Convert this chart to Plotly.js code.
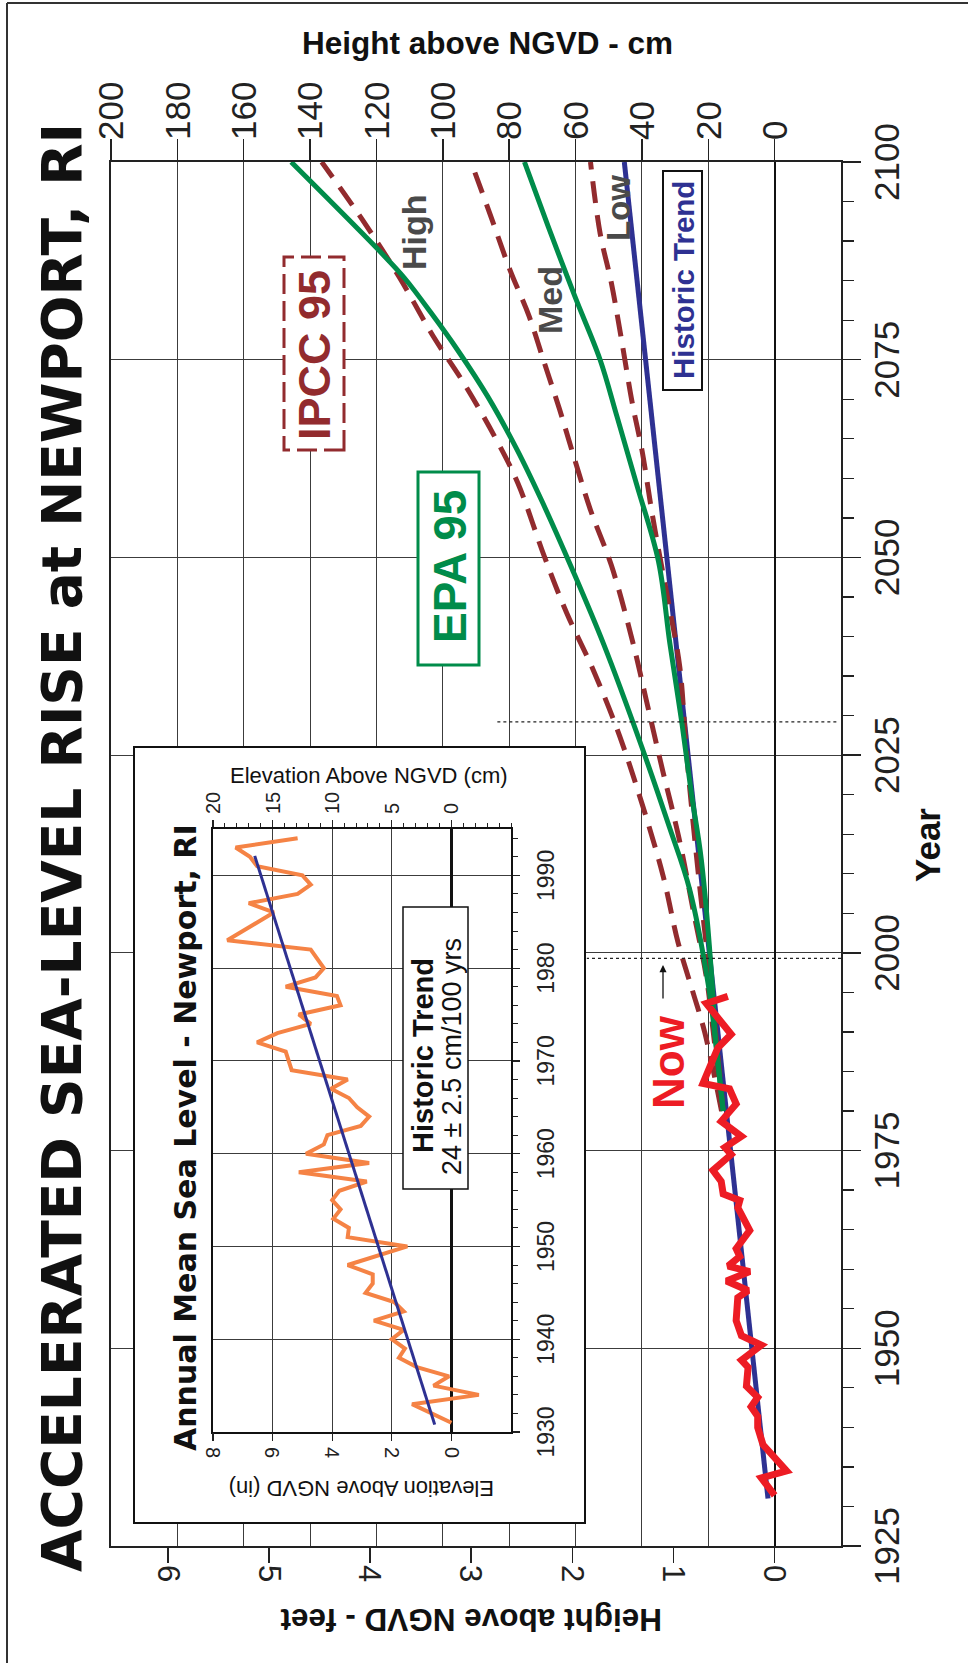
<!DOCTYPE html>
<html>
<head>
<meta charset="utf-8">
<script src="https://cdn.plot.ly/plotly-3.0.1.min.js"></script>
<style>
html,body{margin:0;padding:0;background:#fff;width:968px;height:1663px;overflow:hidden;}
#wrap{position:absolute;left:0;top:0;width:1663px;height:968px;transform-origin:0 0;transform:translate(0px,1663px) rotate(-90deg);}
#chart{width:1663px;height:968px;}
</style>
</head>
<body>
<div id="wrap"><div id="chart"></div></div>
<script>
// ---------------- DATA ----------------
// Main chart: height above NGVD in cm vs year
const trendYear = [1931, 2100];
const trendCm   = [2.0, 45.3];

const ipccHighYear = [1980, 1990, 1995, 2001.3, 2009.7, 2018.5, 2027.4, 2035.8, 2043, 2050, 2059.4, 2065.3, 2072, 2077.9, 2085.5, 2092.3, 2100];
const ipccHighCm   = [16.0, 21.1, 24.6, 29.1, 33.6, 39.7, 46.7, 54.7, 62.7, 69.3, 77.4, 84.4, 93.6, 102.8, 113.2, 123.6, 136.5];

const ipccMedYear = [1980, 1990, 1997, 2005.5, 2013.1, 2017.7, 2022.8, 2032, 2039.2, 2049, 2056, 2062.3, 2068.7, 2074.6, 2080.5, 2086.4, 2093.1, 2100];
const ipccMedCm   = [15.8, 18.5, 20.6, 24.6, 28.1, 30.6, 33.6, 38.7, 42.7, 49.2, 55.5, 60.2, 64.8, 69.4, 74.0, 79.8, 85.5, 91.5];

const ipccLowYear = [1980, 1995, 2010, 2025, 2036.2, 2043.4, 2051, 2056, 2063.6, 2069.5, 2077.9, 2084.7, 2091, 2100];
const ipccLowCm   = [15.5, 19.0, 23.0, 26.5, 28.6, 31.6, 35.0, 37.1, 40.0, 42.9, 46.3, 49.2, 52.6, 55.5];

const epaHighYear = [1980, 1990, 1996, 2008, 2016, 2026, 2039, 2048.5, 2057, 2063.6, 2070.3, 2076.2, 2080.9, 2085.3, 2088.5, 2100];
const epaHighCm   = [15.5, 18.1, 20.0, 25.6, 31.8, 40.0, 51.5, 61.0, 70.0, 77.6, 86.4, 95.5, 103.5, 111.5, 118.5, 145.7];

const epaLowYear = [1980, 1990, 1996, 2011.8, 2020.2, 2029.5, 2039.2, 2049.5, 2059.4, 2067.8, 2075, 2083, 2091.8, 2100];
const epaLowCm   = [15.5, 18.0, 18.8, 22.1, 25.1, 28.1, 31.6, 35.0, 41.7, 47.5, 52.6, 60.2, 68.2, 75.4];

const obsMainYear = [1931.4, 1933.6, 1934.5, 1936.7, 1937.8, 1940.0, 1941.4, 1942.6, 1943.8, 1945.2, 1947.6, 1948.5, 1950.4, 1951.6, 1953.5, 1956.4, 1957.3, 1958.5, 1959.7, 1960.4, 1961.6, 1962.6, 1964.9, 1967.8, 1968.7, 1969.5, 1971.1, 1972.5, 1974.5, 1975.4, 1976.8, 1978.7, 1980.9, 1982.8, 1983.5, 1988.0, 1989.7, 1993.6, 1994.5];
const obsMainCm   = [0.0, 4.0, -3.6, 1.0, 3.5, 5.1, 5.1, 7.1, 5.1, 8.5, 8.0, 10.0, 4.0, 10.0, 11.6, 11.1, 8.0, 14.5, 7.5, 14.0, 10.5, 11.6, 7.5, 11.1, 10.5, 15.5, 16.1, 18.6, 13.1, 15.0, 10.0, 16.1, 11.6, 13.6, 21.6, 17.1, 13.1, 20.6, 14.1];

// Inset: annual mean sea level, Newport RI (cm)
const insetYear = [1931, 1933, 1934, 1935, 1936, 1937, 1938, 1939, 1940, 1941, 1942, 1943, 1944, 1945, 1946, 1947, 1948, 1950, 1951, 1952, 1953, 1954, 1955, 1956, 1957, 1958, 1959, 1960, 1961, 1962, 1963, 1964, 1965, 1966, 1967, 1968, 1969, 1971, 1972, 1973, 1974, 1975, 1976, 1977, 1978, 1979, 1980, 1982, 1983, 1986, 1987, 1988, 1989, 1990, 1991, 1992, 1993, 1994];
const insetCm   = [0.0, 3.3, -2.3, 1.5, 0.2, 2.9, 4.4, 3.9, 5.0, 4.0, 6.5, 4.0, 4.8, 7.2, 6.6, 6.6, 8.7, 3.7, 8.7, 8.6, 9.9, 9.3, 10.0, 9.4, 7.1, 12.8, 6.9, 12.2, 10.7, 10.4, 7.6, 6.9, 7.9, 8.6, 10.1, 8.7, 13.4, 13.9, 16.3, 14.6, 11.8, 12.8, 9.3, 9.6, 13.9, 11.4, 10.7, 11.8, 18.8, 14.9, 17.0, 12.9, 11.8, 12.5, 16.3, 16.9, 18.1, 12.9];
const insetTrendYear = [1930.8, 1992.1];
const insetTrendCm   = [1.4, 16.5];

// Tick values / labels
const cmTickVals = [0, 20, 40, 60, 80, 100, 120, 140, 160, 180, 200];
const feetTickVals = [0, 1, 2, 3, 4, 5, 6];
const insetCmTicks = [0, 5, 10, 15, 20];
const insetInTicks = [0, 2, 4, 6, 8];
const insetYearTicks = [1930, 1940, 1950, 1960, 1970, 1980, 1990];

// ---------------- STYLE / LAYOUT ----------------
const FONT = 'Liberation Sans, Arial, Helvetica, sans-serif';
const WIDE = 'DejaVu Sans, Verdana, sans-serif';
const BROWN = '#922B2E', GREEN = '#008C4A', NAVY = '#2E3192', RED = '#ED1C24', ORANGE = '#F58345', GRAYT = '#4A4A4A', INK = '#222';
const W = 1663, H = 968, M = {l:117, r:162, t:111, b:127};
const PW = W - M.l - M.r, PH = H - M.t - M.b;
const px = lx => (lx - M.l) / PW;
const py = ly => 1 - (ly - M.t) / PH;
const CM_PER_FT = 30.48;
const DASH = '22px,12px';

const traces = [
  {type:'scatter', x:[], y:[], xaxis:'x2', yaxis:'y3'},
  {type:'scatter', mode:'lines', x:trendYear, y:trendCm, line:{color:NAVY, width:5}},
  {type:'scatter', mode:'lines', x:ipccHighYear, y:ipccHighCm, line:{color:BROWN, width:5, dash:DASH, shape:'spline', smoothing:1}},
  {type:'scatter', mode:'lines', x:ipccMedYear, y:ipccMedCm, line:{color:BROWN, width:5, dash:DASH, shape:'spline', smoothing:1}},
  {type:'scatter', mode:'lines', x:ipccLowYear, y:ipccLowCm, line:{color:BROWN, width:5, dash:DASH, shape:'spline', smoothing:1}},
  {type:'scatter', mode:'lines', x:epaHighYear, y:epaHighCm, line:{color:GREEN, width:5, shape:'spline', smoothing:1}},
  {type:'scatter', mode:'lines', x:epaLowYear, y:epaLowCm, line:{color:GREEN, width:5, shape:'spline', smoothing:1}},
  {type:'scatter', mode:'lines', x:obsMainYear, y:obsMainCm, line:{color:RED, width:7, shape:'linear'}},
  {type:'scatter', mode:'lines', x:insetYear, y:insetCm, xaxis:'x3', yaxis:'y4', line:{color:ORANGE, width:4}},
  {type:'scatter', mode:'lines', x:insetTrendYear, y:insetTrendCm, xaxis:'x3', yaxis:'y4', line:{color:NAVY, width:3}}
];
traces.forEach(t => { t.hoverinfo = 'skip'; t.showlegend = false; });

function ann(text, lx, ly, size, color, extra) {
  return Object.assign({
    text: text, xref:'paper', yref:'paper', x:px(lx), y:py(ly),
    xanchor:'center', yanchor:'middle', showarrow:false,
    font:{family:FONT, size:size, color:color}
  }, extra || {});
}

const annotations = [
  ann('<b>ACCELERATED SEA-LEVEL RISE at NEWPORT, RI</b>', 815, 62, 55, '#111', {font:{family:WIDE, size:55, color:'#111'}}),
  ann('<b>Height above NGVD - cm</b>', 1620, 487, 31.5, '#111', {textangle:90}),
  ann('<b>Height above NGVD - feet</b>', 43, 471, 31.5, '#111', {textangle:-90}),
  ann('<b>Year</b>', 818, 928, 35, '#111'),
  ann('<b>IPCC 95</b>', 1308, 314, 45, BROWN),
  ann('<b>EPA 95</b>', 1096, 450, 46, GREEN),
  ann('<b>High</b>', 1431, 414, 34, GRAYT),
  ann('<b>Med</b>', 1363, 550, 34, GRAYT),
  ann('<b>Low</b>', 1455, 618, 33, GRAYT),
  ann('<b>Historic Trend</b>', 1383, 683, 29.5, NAVY),
  ann('<b>Now</b>', 601, 668, 44, RED),
  ann('<b>Annual Mean Sea Level - Newport, RI</b>', 525, 185, 30, '#111', {font:{family:WIDE, size:30, color:'#111'}}),
  ann('Elevation Above NGVD (cm)', 888, 369, 22, '#111', {textangle:90}),
  ann('Elevation Above NGVD (in)', 174, 362, 22, '#111', {textangle:-90}),
  ann('<b>Historic Trend</b>', 607, 423, 29, '#111'),
  ann('24 ± 2.5 cm/100 yrs', 606, 452, 27, '#111'),
  {text:'', xref:'paper', yref:'paper', x:px(698), y:py(663), ax:-35, ay:0, showarrow:true,
   arrowhead:2, arrowsize:1.1, arrowwidth:1.3, arrowcolor:'#111'}
];
feetTickVals.forEach(v => annotations.push({
  text:String(v), xref:'paper', yref:'y2', x:px(90), y:v, textangle:180,
  xanchor:'center', yanchor:'middle', showarrow:false, font:{family:FONT, size:31, color:INK}
}));
insetInTicks.forEach(v => annotations.push({
  text:String(v), xref:'paper', yref:'y5', x:px(211), y:v, textangle:180,
  xanchor:'center', yanchor:'middle', showarrow:false, font:{family:FONT, size:20, color:INK}
}));

function rect(lx0, ly0, lx1, ly1, line, fill) {
  return {type:'rect', xref:'paper', yref:'paper', x0:px(lx0), x1:px(lx1), y0:py(ly1), y1:py(ly0),
          line:line, fillcolor:fill || 'rgba(0,0,0,0)', layer:'above'};
}
const shapes = [
  rect(140, 134, 916, 585, {color:'#111', width:2}),
  rect(1213, 284, 1406, 344, {color:BROWN, width:3, dash:'20px,7px'}, '#fff'),
  rect(998, 418, 1191, 479, {color:GREEN, width:3}, '#fff'),
  rect(1273, 663, 1492, 702, {color:'#111', width:2}, '#fff'),
  rect(474, 403, 756, 468, {color:'#111', width:1.5}, '#fff'),
  {type:'line', xref:'x', yref:'y', x0:1999.3, x1:1999.3, y0:-20, y1:56.6, line:{color:'#222', width:1.2, dash:'dot'}},
  {type:'line', xref:'x', yref:'y', x0:2029.2, x1:2029.2, y0:-18.6, y1:84.3, line:{color:'#222', width:1.2, dash:'dot'}},
  {type:'line', xref:'paper', yref:'paper', x0:px(0), x1:px(1660), y0:py(7), y1:py(7), line:{color:'#333', width:2}},
  {type:'line', xref:'paper', yref:'paper', x0:px(1660), x1:px(1660), y0:py(7), y1:py(968), line:{color:'#333', width:2}}
];

const GRID = '#3c3c3c';
const layout = {
  width:W, height:H, autosize:false,
  margin:{l:M.l, r:M.r, t:M.t, b:M.b, pad:0},
  paper_bgcolor:'#fff', plot_bgcolor:'#fff', showlegend:false,
  font:{family:FONT, color:INK},
  xaxis:{domain:[0,1], anchor:'y', range:[1925,2100], tickmode:'linear', tick0:1925, dtick:25,
    ticks:'outside', ticklen:18, tickwidth:1.5, tickcolor:INK, showgrid:true, gridcolor:GRID, gridwidth:1.1,
    showline:true, mirror:true, linecolor:INK, linewidth:2, zeroline:false,
    tickfont:{family:FONT, size:35, color:INK}, ticklabelstandoff:-4,
    minor:{tick0:1925, dtick:5, ticks:'outside', ticklen:11, tickwidth:1.3, tickcolor:INK, showgrid:false}},
  yaxis:{domain:[0,1], anchor:'x', side:'right', range:[-20,200], tickmode:'array', tickvals:cmTickVals,
    ticks:'outside', ticklen:21, tickwidth:1.5, tickcolor:INK, showgrid:true, gridcolor:GRID, gridwidth:1.1,
    zeroline:true, zerolinecolor:'#111', zerolinewidth:2, showline:true, linecolor:INK, linewidth:2,
    tickfont:{family:FONT, size:35, color:INK}, ticklabelstandoff:-8},
  yaxis2:{overlaying:'y', anchor:'x', side:'left', range:[-20/CM_PER_FT, 200/CM_PER_FT], tickmode:'array', tickvals:feetTickVals,
    ticks:'outside', ticklen:15, tickwidth:1.5, tickcolor:INK, showticklabels:false, showgrid:false, zeroline:false,
    showline:true, linecolor:INK, linewidth:2},
  xaxis2:{domain:[px(140), px(916)], anchor:'y3', range:[0,1], visible:false, fixedrange:true},
  yaxis3:{domain:[py(585), py(134)], anchor:'x2', range:[0,1], visible:false, fixedrange:true},
  xaxis3:{domain:[px(231), px(834)], anchor:'y4', range:[1930,1995], tickmode:'array', tickvals:insetYearTicks,
    ticks:'outside', ticklen:7, tickwidth:1.2, tickcolor:INK, showgrid:true, gridcolor:GRID, gridwidth:1,
    showline:true, mirror:true, linecolor:'#111', linewidth:2, zeroline:false,
    tickfont:{family:FONT, size:23, color:INK}, ticklabelstandoff:6,
    minor:{tick0:1930, dtick:2, ticks:'outside', ticklen:5, tickwidth:1, tickcolor:INK, showgrid:false}},
  yaxis4:{domain:[py(511), py(213)], anchor:'x3', side:'right', range:[-5,20], tickmode:'array', tickvals:insetCmTicks,
    ticks:'outside', ticklen:7, tickwidth:1.2, tickcolor:INK, showgrid:true, gridcolor:GRID, gridwidth:1,
    zeroline:true, zerolinecolor:'#111', zerolinewidth:2.5, showline:true, mirror:true, linecolor:'#111', linewidth:2,
    tickfont:{family:FONT, size:20, color:INK}, ticklabelstandoff:2,
    minor:{tick0:0, dtick:1, ticks:'outside', ticklen:4, tickwidth:1, tickcolor:INK, showgrid:false}},
  yaxis5:{overlaying:'y4', anchor:'x3', side:'left', range:[-2,8], tickmode:'array', tickvals:insetInTicks,
    ticks:'outside', ticklen:8, tickwidth:1.2, tickcolor:INK, showticklabels:false, showgrid:false, zeroline:false, showline:false},
  annotations:annotations,
  shapes:shapes
};

Plotly.newPlot('chart', traces, layout, {displayModeBar:false, staticPlot:true, responsive:false});
</script>
</body>
</html>
